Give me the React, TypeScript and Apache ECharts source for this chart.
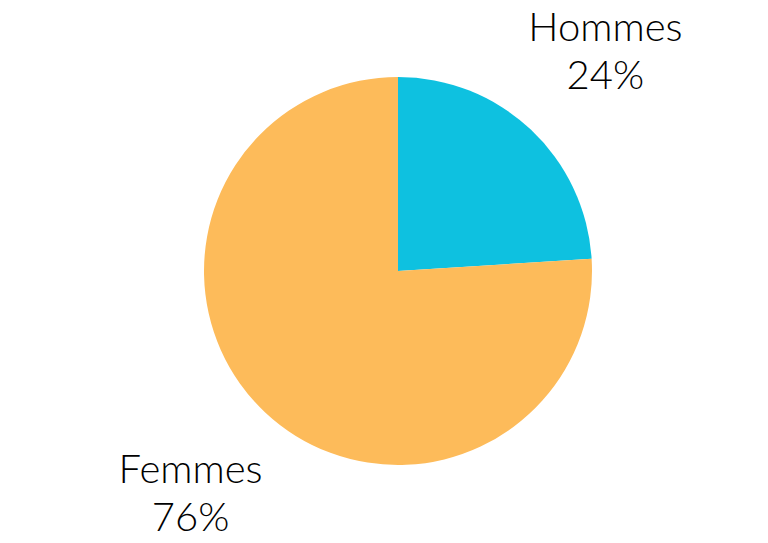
import React, { useEffect, useRef } from 'react';
import * as echarts from 'echarts';

const categories = ['Hommes', 'Femmes'];
const values = [24, 76];
const colors = ['#0EC1E0', '#FDBB5A'];

export default function App() {
  const chartRef = useRef<HTMLDivElement>(null);

  useEffect(() => {
    if (!chartRef.current) return;
    const chart = echarts.init(chartRef.current, null, { renderer: 'svg' });

    const data = categories.map((name, i) => ({
      name,
      value: values[i],
      itemStyle: { color: colors[i] },
    }));

    chart.setOption({
      animation: false,
      backgroundColor: '#fff',
      series: [
        {
          type: 'pie',
          center: [398, 271],
          radius: [0, 194],
          startAngle: 90,
          clockwise: true,
          silent: true,
          label: { show: false },
          labelLine: { show: false },
          data,
        },
        {
          // invisible ring only used to place the labels radially
          type: 'pie',
          center: [398, 271],
          radius: [293, 307],
          startAngle: 90,
          clockwise: true,
          silent: true,
          itemStyle: { color: 'transparent' },
          label: {
            show: true,
            position: 'inside',
            formatter: '{b}\n{c}%',
            fontFamily: 'Lato, "Noto Sans", sans-serif',
            fontWeight: 300,
            fontSize: 40,
            lineHeight: 48,
            color: '#000',
            align: 'center',
          },
          labelLine: { show: false },
          data: categories.map((name, i) => ({ name, value: values[i] })),
        },
      ],
    });

    return () => chart.dispose();
  }, []);

  return (
    <div
      ref={chartRef}
      style={{ position: 'absolute', left: 0, top: 0, width: 768, height: 543 }}
    />
  );
}
